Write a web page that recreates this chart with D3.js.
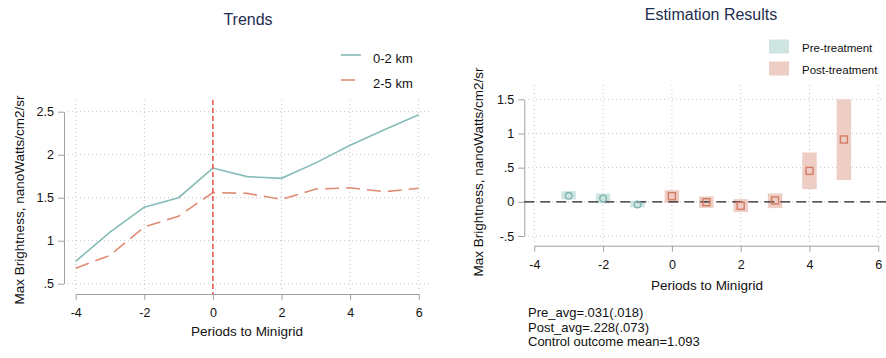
<!DOCTYPE html>
<html>
<head>
<meta charset="utf-8">
<script src="https://cdn.jsdelivr.net/npm/d3@7"></script>
<style>
  body { margin: 0; background: #fff; }
  svg { display: block; font-family: "Liberation Sans", Arial, sans-serif; }
  .axis path, .axis line { stroke: #a0a0a0; stroke-width: 1; }
  .axis text { fill: #111; font-size: 12.5px; }
  .grid { stroke: #c4c4c4; stroke-width: 1; stroke-dasharray: 1,3; }
</style>
</head>
<body>
<div id="chart"></div>
<script>
// Trends panel
const periods = [-4, -3, -2, -1, 0, 1, 2, 3, 4, 5, 6];
const near = [0.76, 1.10, 1.39, 1.50, 1.845, 1.745, 1.725, 1.905, 2.11, 2.29, 2.465];
const far = [0.68, 0.83, 1.16, 1.285, 1.56, 1.55, 1.48, 1.60, 1.615, 1.57, 1.61];
const trendYTicks = [0.5, 1, 1.5, 2, 2.5];
const trendYLabels = ['.5', '1', '1.5', '2', '2.5'];
const xTicks = [-4, -2, 0, 2, 4, 6];
const xLabels = ['-4', '-2', '0', '2', '4', '6'];

// Estimation panel
const prePeriods = [-3, -2, -1];
const preCoef = [0.088, 0.05, -0.038];
const preLo = [0.035, -0.023, -0.082];
const preHi = [0.156, 0.123, 0.015];
const postPeriods = [0, 1, 2, 3, 4, 5];
const postCoef = [0.083, -0.005, -0.058, 0.02, 0.453, 0.912];
const postLo = [-0.015, -0.088, -0.15, -0.092, 0.186, 0.32];
const postHi = [0.171, 0.079, 0.039, 0.123, 0.722, 1.50];
const estYTicks = [-0.5, 0, 0.5, 1, 1.5];
const estYLabels = ['-.5', '0', '.5', '1', '1.5'];
const notes = ['Pre_avg=.031(.018)', 'Post_avg=.228(.073)', 'Control outcome mean=1.093'];

const teal = '#86bcb7', salmon = '#e08c74', navy = '#1e2d50';

const svg = d3.select('#chart').append('svg')
    .attr('width', 886)
    .attr('height', 358);

function drawGrid(g, x, y, yTicks, x0, x1, y0, y1) {
    g.selectAll('.hg').data(yTicks).enter().append('line')
        .attr('class', 'grid')
        .attr('x1', x0).attr('x2', x1)
        .attr('y1', d => y(d)).attr('y2', d => y(d));
    g.selectAll('.vg').data(xTicks).enter().append('line')
        .attr('class', 'grid')
        .attr('x1', d => x(d)).attr('x2', d => x(d))
        .attr('y1', y0).attr('y2', y1);
}

function drawAxes(g, x, y, yTicks, yLabels, xAxisY, yAxisX) {
    g.append('g').attr('class', 'axis')
        .attr('transform', `translate(0,${xAxisY})`)
        .call(d3.axisBottom(x).tickValues(xTicks).tickFormat((d, i) => xLabels[i])
            .tickSize(6).tickSizeOuter(0).tickPadding(8));
    g.append('g').attr('class', 'axis')
        .attr('transform', `translate(${yAxisX},0)`)
        .call(d3.axisLeft(y).tickValues(yTicks).tickFormat((d, i) => yLabels[i])
            .tickSize(6).tickSizeOuter(0).tickPadding(4));
}

function axisTitles(g, xc, xBase, yx, yc) {
    g.append('text')
        .attr('x', xc).attr('y', xBase)
        .attr('text-anchor', 'middle')
        .attr('font-size', '13.5px').attr('fill', '#111')
        .text('Periods to Minigrid');
    g.append('text')
        .attr('transform', `translate(${yx},${yc}) rotate(-90)`)
        .attr('text-anchor', 'middle')
        .attr('font-size', '13.5px').attr('fill', '#111')
        .text('Max Brightness, nanoWatts/cm2/sr');
}

// ---- left: trends ----
const left = svg.append('g');
const xL = d3.scaleLinear().domain([-4, 6]).range([75.7, 418.7]);
const yL = d3.scaleLinear().domain([0.5, 2.5]).range([283.7, 111.7]);

drawGrid(left, xL, yL, trendYTicks, 68, 430, 100, 292);
drawAxes(left, xL, yL, trendYTicks, trendYLabels, 294, 64);

const line = (vals) => d3.line().x((d, i) => xL(periods[i])).y(d => yL(d))(vals);

left.append('path')
    .attr('d', line(far))
    .attr('fill', 'none').attr('stroke', salmon).attr('stroke-width', 1.6)
    .attr('stroke-dasharray', '14,7');
left.append('path')
    .attr('d', line(near))
    .attr('fill', 'none').attr('stroke', teal).attr('stroke-width', 1.6);

left.append('line')
    .attr('x1', xL(0)).attr('x2', xL(0))
    .attr('y1', 100).attr('y2', 294)
    .attr('stroke', '#e8463e').attr('stroke-width', 1.4)
    .attr('stroke-dasharray', '5,3');

left.append('text')
    .attr('x', 248).attr('y', 25)
    .attr('text-anchor', 'middle')
    .attr('font-size', '16px').attr('fill', navy)
    .text('Trends');

axisTitles(left, 247, 336, 24, 200);

const legL = [
    { label: '0-2 km', color: teal, dash: null, y: 55 },
    { label: '2-5 km', color: salmon, dash: '14,7', y: 80 }
];
legL.forEach(d => {
    left.append('line')
        .attr('x1', 341).attr('x2', 361)
        .attr('y1', d.y).attr('y2', d.y)
        .attr('stroke', d.color).attr('stroke-width', 1.6)
        .attr('stroke-dasharray', d.dash);
    left.append('text')
        .attr('x', 373).attr('y', d.y + 8)
        .attr('font-size', '13px').attr('fill', '#111')
        .text(d.label);
});

// ---- right: estimation ----
const right = svg.append('g');
const xR = d3.scaleLinear().domain([-4, 6]).range([534.3, 878.3]);
const yR = d3.scaleLinear().domain([-0.5, 1.5]).range([236, 99.3]);
const halfW = 0.21;

drawGrid(right, xR, yR, estYTicks, 528, 882, 85, 244);
drawAxes(right, xR, yR, estYTicks, estYLabels, 245.7, 524.3);

right.selectAll('.preci').data(prePeriods).enter().append('rect')
    .attr('x', d => xR(d - halfW))
    .attr('width', xR(halfW) - xR(-halfW))
    .attr('y', (d, i) => yR(preHi[i]))
    .attr('height', (d, i) => yR(preLo[i]) - yR(preHi[i]))
    .attr('fill', '#cfe5e2');
right.selectAll('.postci').data(postPeriods).enter().append('rect')
    .attr('x', d => xR(d - halfW))
    .attr('width', xR(halfW) - xR(-halfW))
    .attr('y', (d, i) => yR(postHi[i]))
    .attr('height', (d, i) => yR(postLo[i]) - yR(postHi[i]))
    .attr('fill', '#eecdc4');

right.append('line')
    .attr('x1', 524.3).attr('x2', 886)
    .attr('y1', yR(0)).attr('y2', yR(0))
    .attr('stroke', '#222').attr('stroke-width', 1.3)
    .attr('stroke-dasharray', '10,6');

right.selectAll('.pre').data(prePeriods).enter().append('circle')
    .attr('cx', d => xR(d))
    .attr('cy', (d, i) => yR(preCoef[i]))
    .attr('r', 3.3)
    .attr('fill', 'none').attr('stroke', '#7db4ae').attr('stroke-width', 1.4);
right.selectAll('.post').data(postPeriods).enter().append('rect')
    .attr('x', d => xR(d) - 3.5)
    .attr('y', (d, i) => yR(postCoef[i]) - 3.5)
    .attr('width', 7).attr('height', 7)
    .attr('fill', 'none').attr('stroke', '#d57c64').attr('stroke-width', 1.4);

right.append('text')
    .attr('x', 711).attr('y', 20)
    .attr('text-anchor', 'middle')
    .attr('font-size', '16px').attr('fill', navy)
    .text('Estimation Results');

axisTitles(right, 707, 290, 483, 172);

const legR = [
    { label: 'Pre-treatment', color: '#cfe5e2', y: 39.5 },
    { label: 'Post-treatment', color: '#eecdc4', y: 61.5 }
];
legR.forEach(d => {
    right.append('rect')
        .attr('x', 769).attr('y', d.y)
        .attr('width', 20).attr('height', 14)
        .attr('fill', d.color);
    right.append('text')
        .attr('x', 802).attr('y', d.y + 12)
        .attr('font-size', '11.5px').attr('fill', '#111')
        .text(d.label);
});

right.selectAll('.note').data(notes).enter().append('text')
    .attr('x', 528)
    .attr('y', (d, i) => 317 + i * 14.5)
    .attr('font-size', '13px').attr('fill', '#111')
    .text(d => d);
</script>
</body>
</html>
